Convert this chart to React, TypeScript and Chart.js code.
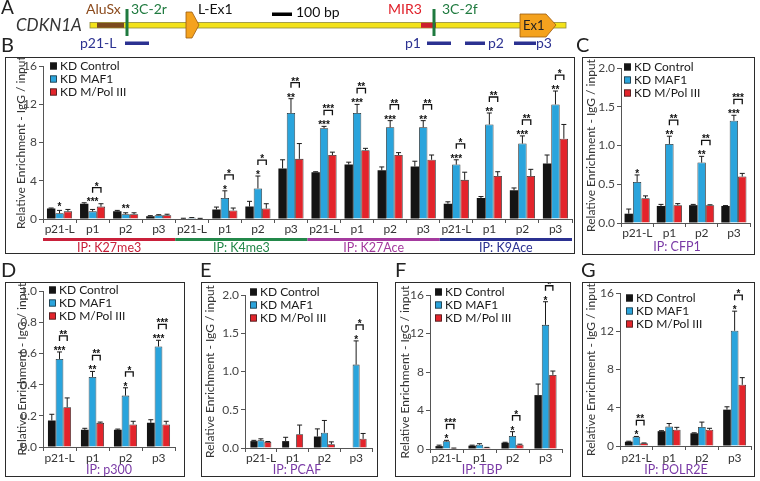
import React, { useEffect, useRef } from "react";
import { Chart, registerables } from "chart.js";
Chart.register(...registerables);

const FONT = "Lato, 'Open Sans', 'DejaVu Sans', sans-serif";
const STAR_FONT = "bold 10px 'Liberation Sans', Arial, sans-serif";
const SERIES = ["KD Control", "KD MAF1", "KD M/Pol III"];
const COLORS = ["#141414", "#2aa4dc", "#e3242b"];
const Y_TITLE = "Relative Enrichment - IgG / input";
const CATS4 = ["p21-L", "p1", "p2", "p3"];

// ---- Panel B ----
const B_CATS = [...CATS4, ...CATS4, ...CATS4, ...CATS4];
const B_IP = ["IP: K27me3", "IP: K4me3", "IP: K27Ace", "IP: K9Ace"];
const B_IP_COLORS = ["#c9203a", "#23884a", "#a43a9e", "#2b3191"];
const B_CTRL = [1.1, 1.6, 0.8, 0.3, 0.05, 1.0, 1.3, 5.3, 4.9, 5.7, 5.1, 5.5, 1.6, 2.2, 3.0, 5.8];
const B_CTRL_ERR = [0.05, 0.1, 0.1, 0.05, 0.03, 0.25, 0.55, 0.9, 0.05, 0.25, 0.35, 0.55, 0.2, 0.15, 0.25, 0.9];
const B_MAF1 = [0.6, 0.8, 0.5, 0.4, 0.12, 2.2, 3.2, 11.1, 9.5, 11.1, 9.6, 9.6, 5.7, 9.9, 7.9, 12.0];
const B_MAF1_ERR = [0.3, 0.2, 0.15, 0.05, 0.03, 0.75, 1.3, 1.5, 0.2, 0.9, 0.7, 0.7, 0.5, 1.2, 0.8, 1.4];
const B_MPOL = [0.8, 1.3, 0.5, 0.4, 0.05, 0.9, 1.1, 6.3, 6.7, 7.2, 6.7, 6.2, 4.1, 4.5, 4.5, 8.4];
const B_MPOL_ERR = [0.2, 0.3, 0.15, 0.1, 0.02, 0.25, 0.5, 1.6, 0.3, 0.2, 0.25, 0.5, 0.8, 0.45, 0.7, 1.5];
const B_STARS = ["*", "***", "**", "", "", "*", "*", "**", "***", "***", "***", "**", "***", "**", "***", "**"];
const B_BRACKETS = ["", "*", "", "", "", "*", "*", "**", "***", "**", "**", "**", "*", "**", "**", "*"];
const B_YTICKS = [0, 4, 8, 12, 16];

// ---- Panel C (CFP1) ----
const C_CTRL = [0.12, 0.22, 0.23, 0.22];
const C_CTRL_ERR = [0.06, 0.02, 0.01, 0.005];
const C_MAF1 = [0.53, 1.02, 0.78, 1.32];
const C_MAF1_ERR = [0.09, 0.1, 0.08, 0.07];
const C_MPOL = [0.32, 0.23, 0.23, 0.6];
const C_MPOL_ERR = [0.03, 0.02, 0.005, 0.04];
const C_STARS = ["*", "**", "**", "***"];
const C_BRACKETS = ["", "**", "**", "***"];
const C_YTICKS = [0, 0.5, 1.0, 1.5, 2.0];

// ---- Panel D (p300) ----
const D_CTRL = [0.17, 0.11, 0.11, 0.155];
const D_CTRL_ERR = [0.04, 0.01, 0.005, 0.02];
const D_MAF1 = [0.565, 0.45, 0.33, 0.645];
const D_MAF1_ERR = [0.045, 0.035, 0.05, 0.04];
const D_MPOL = [0.255, 0.155, 0.145, 0.145];
const D_MPOL_ERR = [0.06, 0.005, 0.02, 0.02];
const D_STARS = ["***", "**", "*", "***"];
const D_BRACKETS = ["**", "**", "*", "***"];
const D_YTICKS = [0, 0.2, 0.4, 0.6, 0.8, 1.0];

// ---- Panel E (PCAF) ----
const E_CTRL = [0.09, 0.09, 0.15, 0];
const E_CTRL_ERR = [0.01, 0.05, 0.1, 0];
const E_MAF1 = [0.1, 0, 0.2, 1.09];
const E_MAF1_ERR = [0.02, 0, 0.16, 0.31];
const E_MPOL = [0.08, 0.18, 0.05, 0.12];
const E_MPOL_ERR = [0.005, 0.12, 0.03, 0.07];
const E_STARS = ["", "", "", "*"];
const E_BRACKETS = ["", "", "", "*"];
const E_YTICKS = [0, 0.5, 1.0, 1.5, 2.0];

// ---- Panel F (TBP) ----
const F_CTRL = [0.3, 0.35, 0.65, 5.6];
const F_CTRL_ERR = [0.1, 0.05, 0.05, 1.15];
const F_MAF1 = [0.8, 0.45, 1.35, 12.9];
const F_MAF1_ERR = [0.1, 0.1, 0.45, 2.4];
const F_MPOL = [0.08, 0.15, 0.45, 7.7];
const F_MPOL_ERR = [0.02, 0.02, 0.05, 0.4];
const F_STARS = ["*", "", "*", "*"];
const F_BRACKETS = ["***", "", "*", "*"];
const F_YTICKS = [0, 4, 8, 12, 16];

// ---- Panel G (POLR2E) ----
const G_CTRL = [0.45, 1.55, 1.33, 3.8];
const G_CTRL_ERR = [0.05, 0.05, 0.05, 0.3];
const G_MAF1 = [0.97, 2.03, 2.0, 12.05];
const G_MAF1_ERR = [0.03, 0.32, 0.5, 2.05];
const G_MPOL = [0.3, 1.7, 1.7, 6.4];
const G_MPOL_ERR = [0.02, 0.25, 0.15, 0.75];
const G_STARS = ["*", "", "", "*"];
const G_BRACKETS = ["**", "", "", "*"];
const G_YTICKS = [0, 4, 8, 12, 16];

type Cfg = {
  box: number[];
  area: number[];
  cats: string[];
  catY: number;
  vals: number[][];
  errs: number[][];
  stars: string[];
  brackets: string[];
  yTicks: number[];
  decimals: number;
  legend: number[];
  frac: number;
  titlePad: number;
  ip: { text: string; x: number; y: number; color: string }[];
  groups?: boolean;
};

const IP_PURPLE = "#7a3aa6";

const PANELS: Cfg[] = [
  {
    box: [5, 57, 575, 254], area: [43, 65, 572, 219], cats: B_CATS, catY: 229,
    vals: [B_CTRL, B_MAF1, B_MPOL], errs: [B_CTRL_ERR, B_MAF1_ERR, B_MPOL_ERR],
    stars: B_STARS, brackets: B_BRACKETS, yTicks: B_YTICKS, decimals: 0,
    legend: [50, 62.5], frac: 0.76, titlePad: 9, ip: [], groups: true,
  },
  {
    box: [582, 57, 755, 255], area: [621, 68, 750, 223], cats: CATS4, catY: 233,
    vals: [C_CTRL, C_MAF1, C_MPOL], errs: [C_CTRL_ERR, C_MAF1_ERR, C_MPOL_ERR],
    stars: C_STARS, brackets: C_BRACKETS, yTicks: C_YTICKS, decimals: 1,
    legend: [624, 63.5], frac: 0.78, titlePad: 1.5,
    ip: [{ text: "IP: CFP1", x: 677, y: 247, color: IP_PURPLE }],
  },
  {
    box: [5, 282, 185, 477], area: [43, 291, 175, 447], cats: CATS4, catY: 458,
    vals: [D_CTRL, D_MAF1, D_MPOL], errs: [D_CTRL_ERR, D_MAF1_ERR, D_MPOL_ERR],
    stars: D_STARS, brackets: D_BRACKETS, yTicks: D_YTICKS, decimals: 1,
    legend: [49, 286.5], frac: 0.7, titlePad: 9.5,
    ip: [{ text: "IP: p300", x: 109, y: 470, color: IP_PURPLE }],
  },
  {
    box: [201, 282, 378, 477], area: [245, 295, 372, 448], cats: CATS4, catY: 458,
    vals: [E_CTRL, E_MAF1, E_MPOL], errs: [E_CTRL_ERR, E_MAF1_ERR, E_MPOL_ERR],
    stars: E_STARS, brackets: E_BRACKETS, yTicks: E_YTICKS, decimals: 1,
    legend: [250, 288.5], frac: 0.66, titlePad: 2,
    ip: [{ text: "IP: PCAF", x: 297, y: 470, color: IP_PURPLE }],
  },
  {
    box: [395, 282, 571, 477], area: [430, 295, 562, 449], cats: CATS4, catY: 458,
    vals: [F_CTRL, F_MAF1, F_MPOL], errs: [F_CTRL_ERR, F_MAF1_ERR, F_MPOL_ERR],
    stars: F_STARS, brackets: F_BRACKETS, yTicks: F_YTICKS, decimals: 0,
    legend: [435, 288.5], frac: 0.67, titlePad: 3,
    ip: [{ text: "IP: TBP", x: 482, y: 470, color: IP_PURPLE }],
  },
  {
    box: [582, 282, 755, 477], area: [620, 293, 751, 446], cats: CATS4, catY: 458,
    vals: [G_CTRL, G_MAF1, G_MPOL], errs: [G_CTRL_ERR, G_MAF1_ERR, G_MPOL_ERR],
    stars: G_STARS, brackets: G_BRACKETS, yTicks: G_YTICKS, decimals: 0,
    legend: [626, 294.5], frac: 0.7, titlePad: 1.5,
    ip: [{ text: "IP: POLR2E", x: 676, y: 470, color: IP_PURPLE }],
  },
];

function makePlugin(cfg: Cfg) {
  const bl = cfg.box[0], bt = cfg.box[1];
  return {
    id: "extras",
    afterDatasetsDraw(chart: any) {
      const ctx = chart.ctx as CanvasRenderingContext2D;
      const ys = chart.scales.y;
      ctx.save();
      const tops: { x: number; y: number }[][] = [0, 1, 2].map((i) => {
        const meta = chart.getDatasetMeta(i);
        return meta.data.map((bar: any, j: number) => {
          const v = cfg.vals[i][j];
          const e = cfg.errs[i][j];
          const yTop = ys.getPixelForValue(v + e);
          if (v > 0 && e > 0) {
            ctx.strokeStyle = "#1a1a1a";
            ctx.lineWidth = 1;
            ctx.beginPath();
            ctx.moveTo(bar.x, bar.y);
            ctx.lineTo(bar.x, yTop);
            ctx.moveTo(bar.x - 2.5, yTop);
            ctx.lineTo(bar.x + 2.5, yTop);
            ctx.stroke();
          }
          return { x: bar.x, y: v > 0 ? yTop : ys.getPixelForValue(0) };
        });
      });
      ctx.fillStyle = "#111";
      ctx.font = STAR_FONT;
      ctx.textAlign = "center";
      ctx.textBaseline = "alphabetic";
      cfg.stars.forEach((s, j) => {
        if (!s) return;
        const yy = Math.min(tops[0][j].y, tops[1][j].y) - 2;
        ctx.fillText(s, tops[1][j].x, yy + 4);
      });
      cfg.brackets.forEach((s, j) => {
        if (!s) return;
        const x1 = tops[1][j].x;
        const x2 = tops[2][j].x;
        const yb = Math.min(tops[1][j].y, tops[2][j].y) - 16;
        ctx.strokeStyle = "#111";
        ctx.lineWidth = 1.3;
        ctx.beginPath();
        ctx.moveTo(x1, yb + 5);
        ctx.lineTo(x1, yb);
        ctx.lineTo(x2, yb);
        ctx.lineTo(x2, yb + 5);
        ctx.stroke();
        ctx.fillText(s, (x1 + x2) / 2, yb + 2);
      });
      ctx.restore();
    },
    afterDraw(chart: any) {
      const ctx = chart.ctx as CanvasRenderingContext2D;
      const xs = chart.scales.x;
      ctx.save();
      // category labels centred on each group
      ctx.font = `12px ${FONT}`;
      ctx.textAlign = "center";
      ctx.textBaseline = "middle";
      ctx.fillStyle = "#333";
      try { (ctx as any).letterSpacing = "-0.3px"; } catch (e) {}
      cfg.cats.forEach((c, j) => {
        ctx.fillText(c, xs.getPixelForValue(j), cfg.catY - bt);
      });
      try { (ctx as any).letterSpacing = "0px"; } catch (e) {}
      // legend
      const lx = cfg.legend[0] - bl;
      const ly = cfg.legend[1] - bt;
      ctx.font = `12px ${FONT}`;
      ctx.textAlign = "left";
      ctx.textBaseline = "middle";
      SERIES.forEach((name, k) => {
        const y = ly + k * 13;
        ctx.fillStyle = COLORS[k];
        ctx.fillRect(lx, y, 7, 7);
        ctx.strokeStyle = "#222";
        ctx.lineWidth = 0.7;
        ctx.strokeRect(lx + 0.35, y + 0.35, 6.3, 6.3);
        ctx.fillStyle = "#1a1a1a";
        ctx.fillText(name, lx + 10, y + 4);
      });
      ctx.font = `12.5px ${FONT}`;
      ctx.textAlign = "center";
      if (cfg.groups) {
        const half = (xs.getPixelForValue(1) - xs.getPixelForValue(0)) / 2;
        B_IP.forEach((t, g) => {
          const x0 = xs.getPixelForValue(g * 4) - half;
          const x1 = xs.getPixelForValue(g * 4 + 3) + half;
          ctx.fillStyle = B_IP_COLORS[g];
          ctx.fillRect(x0, 238 - bt, x1 - x0, 3);
          ctx.fillText(t, (x0 + x1) / 2, 248 - bt);
        });
      }
      cfg.ip.forEach((p) => {
        ctx.fillStyle = p.color;
        ctx.fillText(p.text, p.x - bl, p.y - bt);
      });
      ctx.restore();
    },
  };
}

function Panel({ cfg }: { cfg: Cfg }) {
  const ref = useRef<HTMLCanvasElement>(null);
  const [l, t, r, b] = cfg.box;
  const [al, at, ar, ab] = cfg.area;
  useEffect(() => {
    const chart = new Chart(ref.current as HTMLCanvasElement, {
      type: "bar",
      data: {
        labels: cfg.cats,
        datasets: cfg.vals.map((v, i) => ({
          label: SERIES[i],
          data: v,
          backgroundColor: COLORS[i],
          borderColor: "#262626",
          borderWidth: i === 0 ? 0 : 0.8,
          barPercentage: 1,
          categoryPercentage: cfg.frac,
        })),
      },
      options: {
        responsive: false,
        animation: false,
        layout: { padding: { left: 0, top: at - t, right: r - ar, bottom: 0 } },
        plugins: { legend: { display: false }, tooltip: { enabled: false } },
        scales: {
          x: {
            grid: { display: true, drawOnChartArea: false, tickLength: 4, color: "#555", offset: true },
            border: { color: "#555", width: 1 },
            ticks: { display: false, autoSkip: false, maxRotation: 0 },
            afterFit: (s: any) => {
              s.height = b - ab;
            },
          },
          y: {
            min: 0,
            max: cfg.yTicks[cfg.yTicks.length - 1],
            afterBuildTicks: (s: any) => {
              s.ticks = cfg.yTicks.map((v) => ({ value: v }));
            },
            ticks: {
              callback: (v: any) => Number(v).toFixed(cfg.decimals),
              font: { family: FONT, size: 12 },
              color: "#444",
              padding: 2,
            },
            grid: { drawOnChartArea: false, tickLength: 4, color: "#555" },
            border: { color: "#555", width: 1 },
            title: {
              display: true,
              text: Y_TITLE,
              font: { family: FONT, size: 12 },
              color: "#333",
              padding: { top: cfg.titlePad, bottom: 0 },
            },
            afterFit: (s: any) => {
              s.width = al - l;
            },
          },
        },
      },
      plugins: [makePlugin(cfg)],
    } as any);
    return () => chart.destroy();
  }, []);
  return (
    <>
      <canvas ref={ref} width={r - l} height={b - t} style={{ position: "absolute", left: l, top: t }} />
      <div
        style={{
          position: "absolute",
          left: l,
          top: t,
          width: r - l,
          height: b - t,
          border: "1.5px solid #2b2b2b",
          boxSizing: "border-box",
          pointerEvents: "none",
        }}
      />
    </>
  );
}

function Diagram() {
  const green = "#1f7a3f";
  const navy = "#2b3191";
  const fs = 14;
  return (
    <svg width={760} height={481} style={{ position: "absolute", left: 0, top: 0, pointerEvents: "none" }} fontFamily={FONT}>
      <text x={1} y={14} fontSize={19} fill="#222">A</text>
      <text x={16} y={31} fontSize={17} fontStyle="italic" fill="#333">CDKN1A</text>
      <rect x={90} y={22.5} width={476} height={5.5} fill="#f3e21a" stroke="#8f8a3a" strokeWidth={0.8} />
      <rect x={97} y={22.8} width={27} height={5} fill="#7b4a1e" />
      <text x={86} y={14} fontSize={fs} fill="#8b4a1c">AluSx</text>
      <line x1={127} y1={9} x2={127} y2={36} stroke={green} strokeWidth={3} />
      <text x={131} y={14} fontSize={fs} fill={green}>3C-2r</text>
      <polygon points="186,12 192,12 199,25 192,38 186,38" fill="#f4a21e" stroke="#9a5a10" strokeWidth={0.8} />
      <text x={198} y={14} fontSize={fs} fill="#111">L-Ex1</text>
      <rect x={272} y={12.5} width={20} height={3.5} fill="#000" />
      <text x={296} y={17} fontSize={fs} fill="#111">100 bp</text>
      <rect x={421} y={22.8} width={15} height={5} fill="#cc1f2e" />
      <text x={388} y={14} fontSize={fs} fill="#e0202a">MIR3</text>
      <line x1={434} y1={9} x2={434} y2={36} stroke={green} strokeWidth={3} />
      <text x={442} y={14} fontSize={fs} fill={green}>3C-2f</text>
      <polygon points="520,14 546,14 556,25 546,37 520,37" fill="#f4a21e" stroke="#9a5a10" strokeWidth={0.8} />
      <text x={523} y={30} fontSize={13} fill="#222">Ex1</text>
      <rect x={125} y={41.5} width={24} height={3.5} fill={navy} />
      <text x={80} y={48} fontSize={fs} fill={navy}>p21-L</text>
      <rect x={427} y={41.5} width={24} height={3.5} fill={navy} />
      <text x={405} y={48} fontSize={fs} fill={navy}>p1</text>
      <rect x={465} y={41.5} width={20} height={3.5} fill={navy} />
      <text x={488} y={48} fontSize={fs} fill={navy}>p2</text>
      <rect x={514} y={41.5} width={22} height={3.5} fill={navy} />
      <text x={536} y={48} fontSize={fs} fill={navy}>p3</text>
      <text x={1} y={52} fontSize={20} fill="#222">B</text>
      <text x={576} y={52} fontSize={20} fill="#222">C</text>
      <text x={1} y={277} fontSize={20} fill="#222">D</text>
      <text x={200} y={277} fontSize={20} fill="#222">E</text>
      <text x={395} y={277} fontSize={20} fill="#222">F</text>
      <text x={581} y={277} fontSize={20} fill="#222">G</text>
    </svg>
  );
}

export default function App() {
  return (
    <div style={{ position: "fixed", left: 0, top: 0, width: 760, height: 481, background: "#fff", overflow: "hidden" }}>
      {PANELS.map((p, i) => (
        <Panel key={i} cfg={p} />
      ))}
      <Diagram />
    </div>
  );
}
